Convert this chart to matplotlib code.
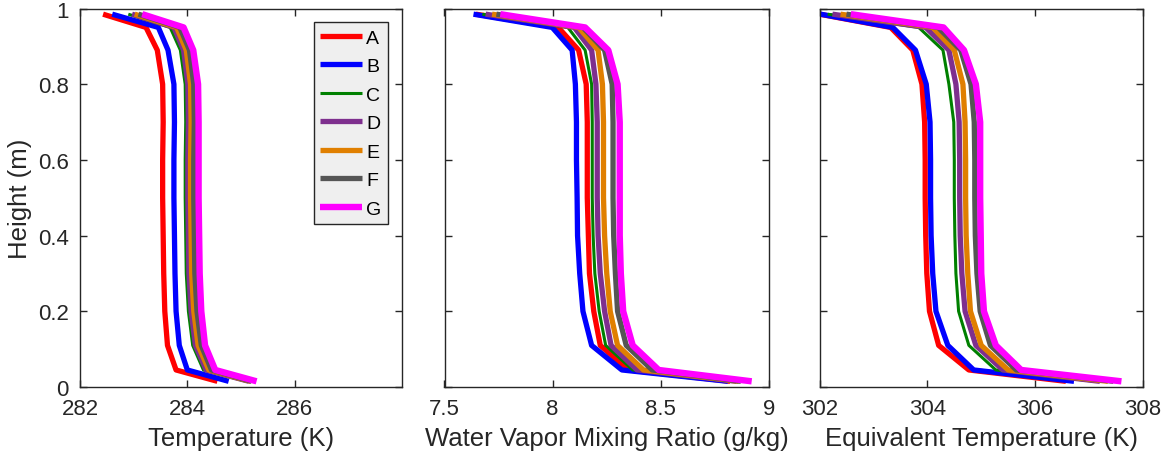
import matplotlib
matplotlib.use('Agg')
import matplotlib.pyplot as plt

# heights of the profile points (m)
heights = [0.015, 0.045, 0.11, 0.2, 0.3, 0.4, 0.5, 0.6, 0.7, 0.8, 0.89, 0.95, 0.985]

names = ['A', 'B', 'C', 'D', 'E', 'F', 'G']
colors = ['#ff0000', '#0000ff', '#008000', '#7e2f8e', '#e07f00', '#555555', '#ff00ff']
widths = [3.8, 3.8, 2.2, 3.8, 3.8, 3.8, 4.6]

# temperature (K)
temp_A = [284.56, 283.79, 283.63, 283.58, 283.56, 283.55, 283.54, 283.54, 283.55, 283.54, 283.44, 283.23, 282.43]
temp_B = [284.77, 284.00, 283.85, 283.79, 283.77, 283.76, 283.75, 283.75, 283.76, 283.75, 283.64, 283.46, 282.60]
temp_C = [285.10, 284.30, 284.10, 284.02, 283.98, 283.97, 283.96, 283.96, 283.97, 283.96, 283.87, 283.68, 282.90]
temp_D = [285.15, 284.35, 284.15, 284.07, 284.03, 284.02, 284.01, 284.01, 284.02, 284.01, 283.93, 283.75, 282.97]
temp_E = [285.18, 284.40, 284.20, 284.12, 284.08, 284.07, 284.06, 284.06, 284.07, 284.06, 283.98, 283.80, 283.02]
temp_F = [285.20, 284.45, 284.26, 284.18, 284.14, 284.13, 284.12, 284.12, 284.13, 284.12, 284.04, 283.86, 283.09]
temp_G = [285.29, 284.52, 284.33, 284.26, 284.23, 284.22, 284.21, 284.21, 284.21, 284.20, 284.11, 283.93, 283.16]

# water vapor mixing ratio (g/kg)
mix_A = [8.82, 8.35, 8.22, 8.19, 8.170, 8.165, 8.160, 8.160, 8.160, 8.155, 8.12, 8.026, 7.645]
mix_B = [8.81, 8.32, 8.18, 8.14, 8.125, 8.115, 8.113, 8.110, 8.110, 8.105, 8.09, 7.998, 7.634]
mix_C = [8.84, 8.37, 8.245, 8.215, 8.195, 8.187, 8.183, 8.183, 8.183, 8.180, 8.15, 8.07, 7.675]
mix_D = [8.85, 8.39, 8.27, 8.24, 8.22, 8.21, 8.206, 8.206, 8.206, 8.20, 8.18, 8.10, 7.69]
mix_E = [8.86, 8.42, 8.30, 8.266, 8.25, 8.24, 8.235, 8.235, 8.235, 8.23, 8.21, 8.12, 7.72]
mix_F = [8.87, 8.46, 8.34, 8.30, 8.29, 8.282, 8.279, 8.279, 8.279, 8.275, 8.24, 8.14, 7.74]
mix_G = [8.92, 8.49, 8.37, 8.326, 8.315, 8.31, 8.31, 8.31, 8.31, 8.30, 8.257, 8.15, 7.758]

# equivalent temperature (K)
eqt_A = [306.57, 304.77, 304.21, 304.04, 303.99, 303.97, 303.96, 303.96, 303.95, 303.90, 303.73, 303.32, 302.00]
eqt_B = [306.72, 304.86, 304.38, 304.16, 304.10, 304.07, 304.06, 304.06, 304.05, 303.98, 303.78, 303.36, 302.02]
eqt_C = [307.10, 305.27, 304.77, 304.58, 304.53, 304.51, 304.50, 304.50, 304.49, 304.40, 304.29, 303.84, 302.15]
eqt_D = [307.20, 305.40, 304.90, 304.70, 304.64, 304.61, 304.60, 304.60, 304.59, 304.53, 304.40, 303.97, 302.24]
eqt_E = [307.35, 305.50, 305.00, 304.80, 304.75, 304.72, 304.71, 304.71, 304.70, 304.66, 304.50, 304.10, 302.39]
eqt_F = [307.45, 305.65, 305.17, 304.98, 304.92, 304.89, 304.88, 304.88, 304.87, 304.81, 304.62, 304.20, 302.50]
eqt_G = [307.60, 305.74, 305.27, 305.05, 305.00, 304.99, 304.98, 304.98, 304.98, 304.90, 304.68, 304.30, 302.58]

y_ticks = [0, 0.2, 0.4, 0.6, 0.8, 1]
y_ticklabels = ['0', '0.2', '0.4', '0.6', '0.8', '1']
temp_ticks = [282, 284, 286]
mix_ticks = [7.5, 8, 8.5, 9]
mix_ticklabels = ['7.5', '8', '8.5', '9']
eqt_ticks = [302, 304, 306, 308]

plt.rcParams['font.family'] = ['Liberation Sans', 'DejaVu Sans']
dark = '#262626'

fig = plt.figure(figsize=(11.75, 4.6), dpi=100)
boxes = [[80/1175, 72/460, 322/1175, 378.5/460],
         [444.5/1175, 72/460, 324.5/1175, 378.5/460],
         [819.5/1175, 72/460, 323.5/1175, 378.5/460]]

panels = [
    ([temp_A, temp_B, temp_C, temp_D, temp_E, temp_F, temp_G], (282, 288), temp_ticks,
     [str(t) for t in temp_ticks], 'Temperature (K)'),
    ([mix_A, mix_B, mix_C, mix_D, mix_E, mix_F, mix_G], (7.5, 9), mix_ticks,
     mix_ticklabels, 'Water Vapor Mixing Ratio (g/kg)'),
    ([eqt_A, eqt_B, eqt_C, eqt_D, eqt_E, eqt_F, eqt_G], (302, 308), eqt_ticks,
     [str(t) for t in eqt_ticks], 'Equivalent Temperature (K)'),
]

axes = []
for i, (series, xlim, xt, xtl, xlabel) in enumerate(panels):
    ax = fig.add_axes(boxes[i])
    for vals, name, c, lw in zip(series, names, colors, widths):
        ax.plot(vals, heights, color=c, lw=lw, label=name, solid_capstyle='butt')
    ax.set_xlim(*xlim)
    ax.set_ylim(0, 1)
    ax.set_xticks(xt)
    ax.set_xticklabels(xtl)
    ax.set_yticks(y_ticks)
    if i == 0:
        ax.set_yticklabels(y_ticklabels)
        ax.set_ylabel('Height (m)', fontsize=18.5, color=dark, labelpad=4)
    else:
        ax.set_yticklabels([])
    ax.set_xlabel(xlabel, fontsize=18.5, color=dark, labelpad=5)
    ax.tick_params(direction='in', top=True, right=True, length=5, width=1,
                   labelsize=16, colors=dark, pad=8)
    for s in ax.spines.values():
        s.set_color(dark)
        s.set_linewidth(1.0)
    axes.append(ax)

leg = axes[0].legend(loc='upper right', bbox_to_anchor=(0.957, 0.964), borderaxespad=0,
                     fontsize=14, handlelength=2.15, handletextpad=0.2,
                     labelspacing=0.56, fancybox=False, framealpha=1,
                     borderpad=0.35)
leg.get_frame().set_facecolor('#efefef')
leg.get_frame().set_edgecolor(dark)
leg.get_frame().set_linewidth(1.0)

fig.savefig('out.png', dpi=100)
